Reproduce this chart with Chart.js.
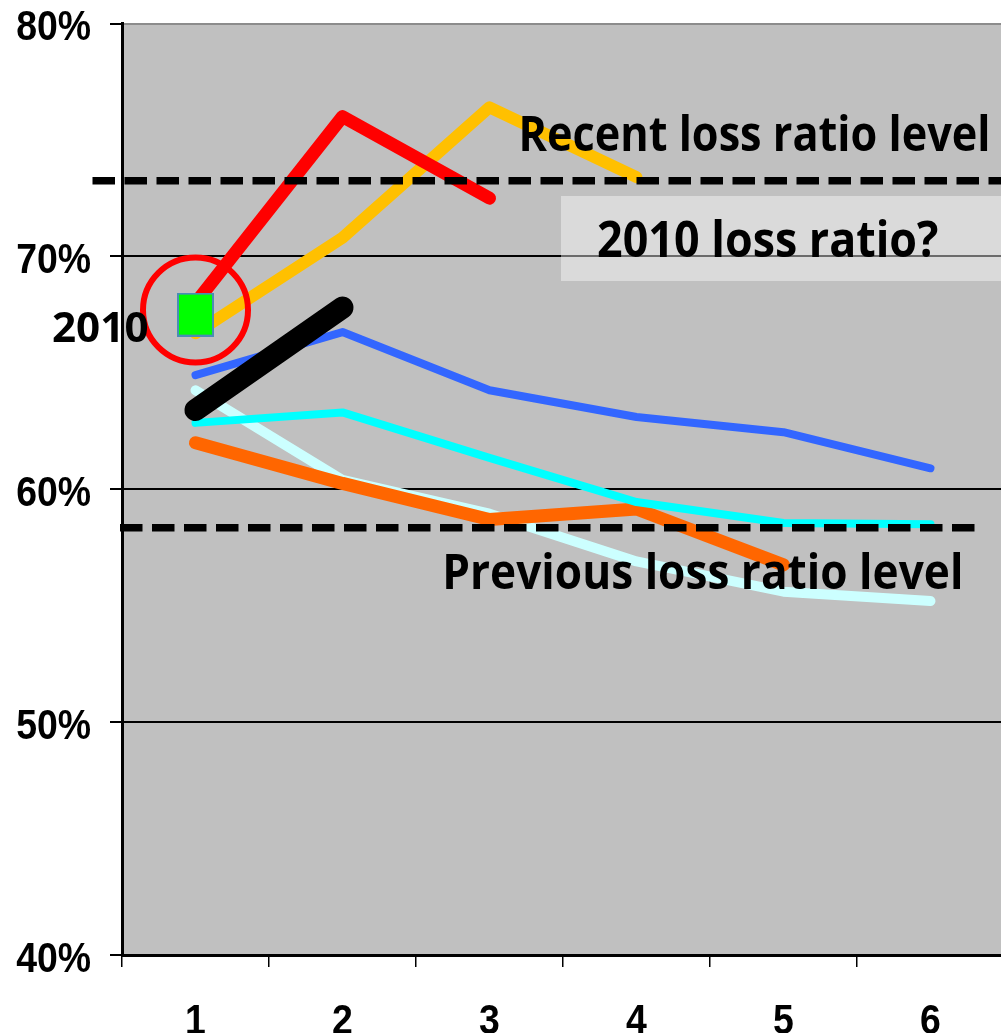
<!DOCTYPE html>
<html>
<head>
<meta charset="utf-8">
<title>Loss ratio development</title>
<script src="https://cdn.jsdelivr.net/npm/chart.js@4/dist/chart.umd.min.js"></script>
<style>
  html, body { margin: 0; padding: 0; background: #fff; overflow: hidden; }
  #wrap { width: 1001px; height: 1033px; overflow: hidden; position: relative; }
  canvas { display: block; }
</style>
</head>
<body>
<div id="wrap"><canvas id="c" width="1010" height="1033"></canvas></div>
<script>
// Development periods
const categories = ['1', '2', '3', '4', '5', '6'];

// Loss ratio (%) by development period, one array per accident year
const redYear      = [68.0, 76.0, 72.5, null, null, null];
const yellowYear   = [66.7, 70.8, 76.4, 73.4, null, null];
const blueYear     = [64.9, 66.75, 64.25, 63.1, 62.45, 60.9];
const cyanYear     = [62.85, 63.3, 61.35, 59.45, 58.55, 58.5];
const paleCyanYear = [64.25, 60.4, 58.95, 56.9, 55.6, 55.2];
const orangeYear   = [62.0, 60.25, 58.7, 59.15, 56.75, null];
const latestYear   = [63.4, 67.8, null, null, null, null];

// 2010 first estimate and its highlight ring
const year2010     = [67.5, null, null, null, null, null];
const ring2010     = [67.7, null, null, null, null, null];

// Reference levels (%)
const recentLevel   = 73.25;
const previousLevel = 58.35;

// Value axis ticks
const yMin = 40, yMax = 80, yStep = 10;

const FONT = "'Liberation Sans', Arial, sans-serif";
const NOTE_FONT = "'Open Sans', 'Noto Sans', sans-serif";
const TICK_SIZE = 43;      // tick label size, drawn slightly condensed
const TICK_SQUEEZE = 0.87;

// green marker for the 2010 point
const marker = document.createElement('canvas');
marker.width = 37; marker.height = 44;
(function () {
  const m = marker.getContext('2d');
  m.fillStyle = '#00ff00';
  m.fillRect(0, 0, 37, 44);
  m.strokeStyle = '#4a8db5';
  m.lineWidth = 2;
  m.strokeRect(1, 1, 35, 42);
})();

// bold text squeezed into a given box (left/right of glyphs, top/baseline)
function fitText(ctx, text, left, right, top, baseline) {
  ctx.save();
  ctx.font = 'bold 100px ' + NOTE_FONT;
  const m = ctx.measureText(text);
  const size = 100 * (baseline - top) / m.actualBoundingBoxAscent;
  ctx.font = 'bold ' + size + 'px ' + NOTE_FONT;
  const m2 = ctx.measureText(text);
  const w = m2.actualBoundingBoxLeft + m2.actualBoundingBoxRight;
  ctx.translate(left, baseline);
  ctx.scale((right - left) / w, 1);
  ctx.textAlign = 'left';
  ctx.textBaseline = 'alphabetic';
  ctx.fillStyle = '#000';
  ctx.fillText(text, m2.actualBoundingBoxLeft, 0);
  ctx.restore();
}

// condensed label at an anchor point
function squeezedLabel(ctx, text, x, y, align) {
  ctx.save();
  ctx.translate(x, y);
  ctx.scale(TICK_SQUEEZE, 1);
  ctx.font = 'bold ' + TICK_SIZE + 'px ' + FONT;
  ctx.fillStyle = '#000';
  ctx.textAlign = align;
  ctx.textBaseline = 'alphabetic';
  ctx.fillText(text, 0, 0);
  ctx.restore();
}

// scales keep exactly the size given to them, without label overhang padding
function fixScale(s, size) {
  if (s.isHorizontal()) s.height = size; else s.width = size;
  s.paddingTop = 0; s.paddingBottom = 0; s.paddingLeft = 0; s.paddingRight = 0;
}

const plotBackground = {
  id: 'plotBackground',
  beforeDraw(chart) {
    const { ctx, chartArea: a } = chart;
    ctx.save();
    ctx.fillStyle = '#c0c0c0';
    ctx.fillRect(a.left, a.top, a.right - a.left, a.bottom - a.top);
    ctx.restore();
  }
};

// axis labels taken from the scales' own ticks
const axisLabels = {
  id: 'axisLabels',
  afterDraw(chart) {
    const { ctx, scales: { x, y } } = chart;
    y.ticks.forEach((t, i) => {
      squeezedLabel(ctx, t.label, y.right - 31, y.getPixelForTick(i) + 16.5, 'right');
    });
    x.ticks.forEach((t, i) => {
      squeezedLabel(ctx, t.label, x.getPixelForTick(i), x.top + 79, 'center');
    });
  }
};

const notes = {
  id: 'notes',
  afterDatasetsDraw(chart) {
    const { ctx } = chart;
    const y = chart.scales.y;

    // dashed reference levels
    ctx.save();
    ctx.strokeStyle = '#000';
    ctx.lineWidth = 7.5;
    ctx.lineCap = 'butt';
    ctx.setLineDash([22.5, 9.5]);
    const yr = y.getPixelForValue(recentLevel);
    ctx.beginPath(); ctx.moveTo(92.5, yr); ctx.lineTo(1010, yr); ctx.stroke();
    const yp = y.getPixelForValue(previousLevel);
    ctx.beginPath(); ctx.moveTo(120, yp); ctx.lineTo(978, yp); ctx.stroke();
    ctx.restore();

    // question box
    ctx.save();
    ctx.fillStyle = 'rgba(255,255,255,0.42)';
    ctx.fillRect(561, 196, 445, 85);
    ctx.restore();

    fitText(ctx, 'Recent loss ratio level', 522, 988, 113, 150.5);
    fitText(ctx, '2010 loss ratio?', 598, 938, 219, 257);
    fitText(ctx, 'Previous loss ratio level', 446, 960, 552, 589);
    fitText(ctx, '2010', 53, 147, 312, 342);
  }
};

const line = (data, color, width, order) => ({
  data,
  borderColor: color,
  borderWidth: width,
  pointRadius: 0,
  tension: 0,
  fill: false,
  borderCapStyle: 'round',
  borderJoinStyle: 'round',
  order
});

new Chart(document.getElementById('c'), {
  type: 'line',
  data: {
    labels: categories,
    datasets: [
      {
        data: ring2010, showLine: false, pointRadius: 52.5, pointBorderWidth: 6,
        pointBorderColor: '#ff0000', pointBackgroundColor: 'rgba(0,0,0,0)', order: 0
      },
      { data: year2010, showLine: false, pointStyle: marker, pointRadius: 18, order: 1 },
      line(latestYear, '#000000', 22, 2),
      line(redYear, '#ff0000', 13, 3),
      line(yellowYear, '#ffc000', 12, 4),
      line(blueYear, '#3366ff', 8, 5),
      line(cyanYear, '#00ffff', 8, 6),
      line(orangeYear, '#ff6600', 13, 7),
      line(paleCyanYear, '#ccffff', 10, 8)
    ]
  },
  options: {
    responsive: false,
    animation: false,
    devicePixelRatio: 1,
    layout: { autoPadding: false, padding: { top: 23.5, right: 6, left: 0, bottom: 0 } },
    plugins: { legend: { display: false }, tooltip: { enabled: false } },
    scales: {
      x: {
        type: 'category',
        offset: true,
        afterFit(s) { fixScale(s, 78); },
        grid: {
          offset: true, drawOnChartArea: false, drawTicks: true,
          tickLength: 12, color: '#000', tickColor: '#000', lineWidth: 1.5
        },
        border: { color: '#000', width: 3 },
        ticks: { color: 'rgba(0,0,0,0)', font: { family: FONT, weight: 'bold', size: TICK_SIZE } }
      },
      y: {
        min: yMin, max: yMax,
        afterFit(s) { fixScale(s, 122); },
        grid: {
          color: (c) => (c.tick && c.tick.value === yMax ? '#8c8c8c' : '#000'),
          tickColor: '#000',
          lineWidth: 2,
          tickLength: 12
        },
        border: { color: '#000', width: 3 },
        ticks: {
          stepSize: yStep,
          color: 'rgba(0,0,0,0)',
          callback: (v) => v + '%',
          font: { family: FONT, weight: 'bold', size: TICK_SIZE }
        }
      }
    }
  },
  plugins: [plotBackground, notes, axisLabels]
});
</script>
</body>
</html>
